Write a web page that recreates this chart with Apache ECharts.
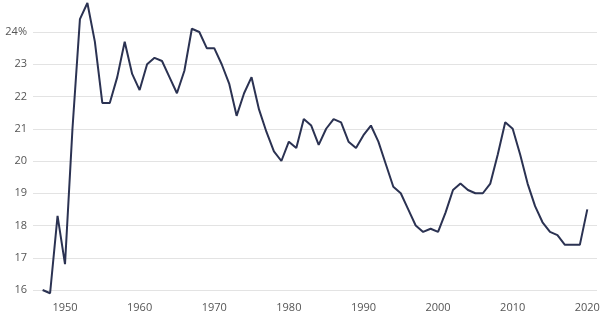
<!DOCTYPE html>
<html>
<head>
<meta charset="utf-8">
<script src="https://cdn.jsdelivr.net/npm/echarts@6/dist/echarts.min.js"></script>
<style>
  html, body { margin: 0; padding: 0; background: #fff; }
  #chart { width: 611px; height: 324px; }
</style>
</head>
<body>
<div id="chart"></div>
<script>
// years 1947..2020
let years = [];
for (let y = 1947; y <= 2020; y++) years.push(y);

// share, in %
let values = [
  16.0, 15.9, 18.3, 16.8, 21.0, 24.4, 24.9, 23.7, 21.8, 21.8,
  22.6, 23.7, 22.7, 22.2, 23.0, 23.2, 23.1, 22.6, 22.1, 22.8,
  24.1, 24.0, 23.5, 23.5, 23.0, 22.4, 21.4, 22.1, 22.6, 21.6,
  20.9, 20.3, 20.0, 20.6, 20.4, 21.3, 21.1, 20.5, 21.0, 21.3,
  21.2, 20.6, 20.4, 20.8, 21.1, 20.6, 19.9, 19.2, 19.0, 18.5,
  18.0, 17.8, 17.9, 17.8, 18.4, 19.1, 19.3, 19.1, 19.0, 19.0,
  19.3, 20.2, 21.2, 21.0, 20.2, 19.3, 18.6, 18.1, 17.8, 17.7,
  17.4, 17.4, 17.4, 18.5
];

let xTicks = [1950, 1960, 1970, 1980, 1990, 2000, 2010, 2020];

let chart = echarts.init(document.getElementById('chart'));

chart.setOption({
  backgroundColor: '#ffffff',
  animation: false,
  textStyle: { fontFamily: 'Open Sans' },
  grid: { left: 33, right: 14, top: 32, bottom: 34 },
  xAxis: {
    type: 'value',
    min: 1945.71,
    max: 2021.3,
    splitNumber: 7,
    minInterval: 10,
    maxInterval: 10,
    axisLine: { show: false },
    axisTick: { show: false },
    splitLine: { show: false },
    axisLabel: {
      color: '#555',
      fontSize: 11,
      margin: 12,
      showMinLabel: false,
      showMaxLabel: false,
      formatter: function (v) {
        return xTicks.indexOf(v) >= 0 ? String(v) : '';
      }
    }
  },
  yAxis: {
    type: 'value',
    min: 16,
    max: 24,
    interval: 1,
    axisLine: { show: false },
    axisTick: { show: false },
    splitLine: { lineStyle: { color: '#e3e3e3', width: 1 } },
    axisLabel: {
      color: '#555',
      fontSize: 11,
      margin: 6,
      formatter: function (v) {
        return v === 24 ? '24%' : String(v);
      }
    }
  },
  series: [
    {
      type: 'line',
      clip: false,
      showSymbol: false,
      lineStyle: { color: '#2b3252', width: 2 },
      data: years.map(function (y, i) { return [y, values[i]]; })
    }
  ]
});
</script>
</body>
</html>
